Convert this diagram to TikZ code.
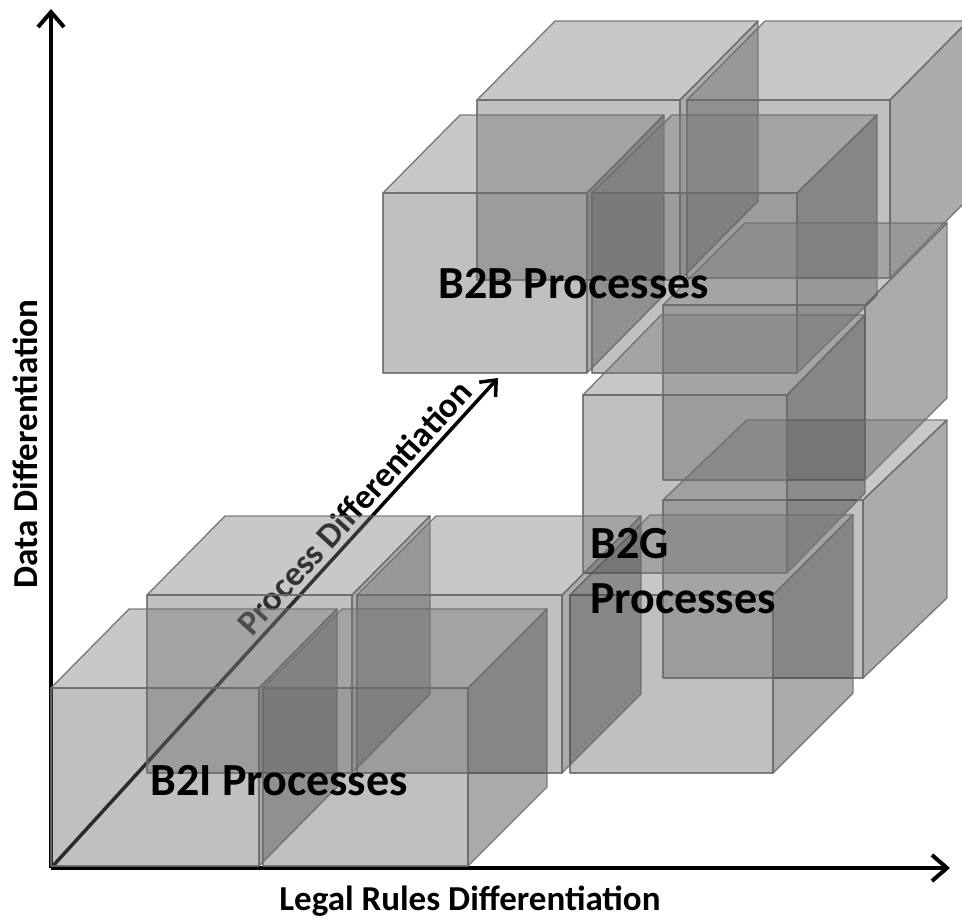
\documentclass[tikz,border=0pt]{standalone}
\usepackage{fontspec}
\setmainfont{Carlito}
\usetikzlibrary{arrows.meta}
\definecolor{cfront}{gray}{0.41}
\definecolor{ctop}{gray}{0.49}
\definecolor{cright}{gray}{0.22}
\definecolor{cedge}{gray}{0.42}
\tikzset{
  face/.style={draw=cedge, line width=1.4pt, draw opacity=0.85, fill opacity=0.42, line join=round},
  frontface/.style={face, fill=cfront},
  topface/.style={face, fill=ctop},
  rightface/.style={face, fill=cright},
  axisline/.style={line width=4pt, -{Straight Barb[length=15pt,width=26pt]}},
  procline/.style={line width=3.5pt, -{Straight Barb[length=13pt,width=22pt]}},
  lbl/.style={font=\fontsize{35}{40}\selectfont\bfseries, inner sep=0pt},
  grp/.style={font=\fontsize{46}{55}\selectfont\bfseries, inner sep=0pt},
}
% \boxcube{x}{ybottom}{w}{h}{dx}{dy}
\newcommand{\boxcube}[6]{%
  \path[rightface] (#1+#3,#2) -- ++(0,-#4) -- ++(#5,-#6) -- ++(0,#4) -- cycle;
  \path[topface] (#1,#2-#4) -- ++(#3,0) -- ++(#5,-#6) -- ++(-#3,0) -- cycle;
  \path[frontface] (#1,#2) rectangle ++(#3,-#4);
}
\begin{document}
\begin{tikzpicture}[x=1pt,y=-1pt]
\useasboundingbox (0,0) rectangle (962,923);
\clip (0,0) rectangle (962,923);
\coordinate (O) at (51,868);
\coordinate (Ytip) at (51,9);
\coordinate (Xtip) at (950,868);
\coordinate (Ptip) at (498,378);
% axes
\draw[axisline] (O) -- (Ytip);
\draw[axisline] (O) -- (Xtip);
\draw[procline] (O) -- (Ptip) node[pos=0.71, sloped, above=5pt, lbl] (ptxt) {Process Differentiation};
% B2B group (back to front)
\boxcube{477}{280}{203}{180}{78}{79}
\boxcube{687}{278}{203}{178}{78}{79}
\boxcube{383}{373}{204}{180}{77}{78}
\boxcube{592}{373}{205}{180}{80}{78}
% B2G group
\boxcube{663}{480}{202}{175}{82}{82}
\boxcube{663}{678}{200}{178}{84}{80}
\boxcube{583}{573}{204}{178}{78}{80}
\boxcube{570}{773}{203}{178}{80}{80}
% B2I group
\boxcube{147}{773}{205}{178}{78}{79}
\boxcube{357}{773}{205}{178}{79}{79}
\boxcube{51}{866}{208}{178}{78}{79}
\boxcube{263}{866}{205}{178}{79}{79}
% labels
\node[grp, anchor=base west] (b2i) at (150,795) {B2I Processes};
\node[grp, anchor=base west] (b2b) at (438,298) {B2B Processes};
\node[grp, anchor=base west] (b2g) at (590,558) {B2G};
\node[grp, anchor=base west] (b2gp) at (590,613) {Processes};
\node[lbl, anchor=base] (xlab) at (470,910) {Legal Rules Differentiation};
\node[lbl, rotate=90, anchor=base] (ylab) at (37,444) {Data Differentiation};
\end{tikzpicture}
\end{document}
